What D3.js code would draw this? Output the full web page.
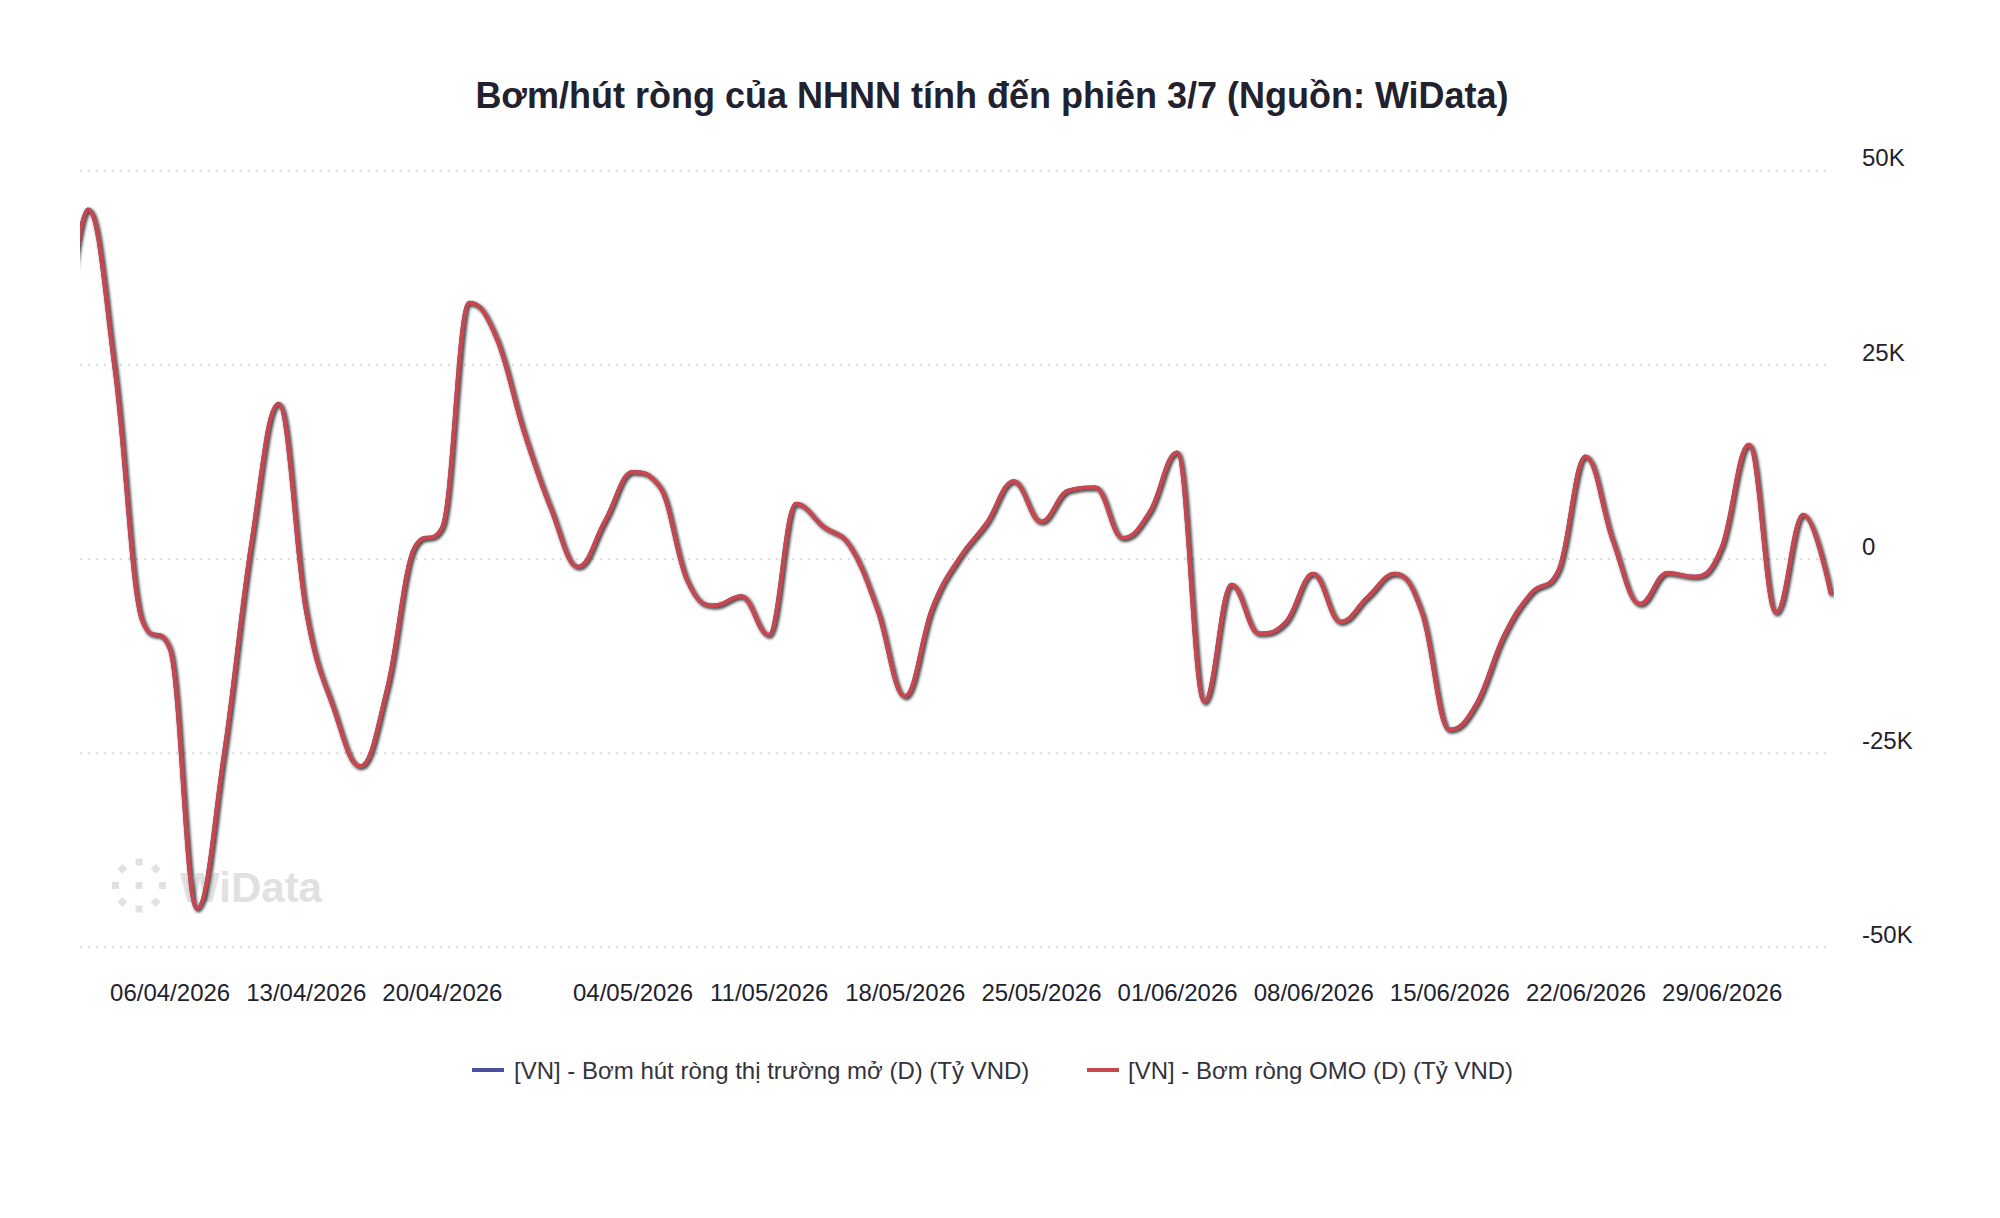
<!DOCTYPE html>
<html><head><meta charset="utf-8">
<script src="https://cdn.jsdelivr.net/npm/d3@7"></script>
<style>html,body{margin:0;padding:0;background:#fff;} svg{display:block;font-family:"Liberation Sans",Arial,Helvetica,sans-serif;}</style>
</head><body><svg id="chart" width="2000" height="1218"></svg>
<script>
// Trading days (31/03 lies just left of the visible plot and is clipped)
const dates = ["31/03","01/04","02/04","03/04","06/04","07/04","08/04","09/04","10/04","13/04","14/04","15/04","16/04","17/04","20/04","21/04","22/04","23/04","24/04","28/04","29/04","04/05","05/05","06/05","07/05","08/05","11/05","12/05","13/05","14/05","15/05","18/05","19/05","20/05","21/05","22/05","25/05","26/05","27/05","28/05","29/05","01/06","02/06","03/06","04/06","05/06","08/06","09/06","10/06","11/06","12/06","15/06","16/06","17/06","18/06","19/06","22/06","23/06","24/06","25/06","26/06","29/06","30/06","01/07","02/07","03/07"];

// [VN] - Bơm hút ròng thị trường mở (D) (Tỷ VND)
const netOpenMarket = [22000,45000,24000,-8000,-11500,-45000,-25000,2000,20000,-6500,-19000,-26700,-16500,1500,4000,33000,28500,16500,6500,-1000,5000,11200,9300,-2700,-6000,-4800,-9800,7100,4200,1600,-6600,-17700,-6400,100,4600,10000,4800,8800,9200,2700,6100,13700,-18400,-3300,-9600,-8100,-1900,-8100,-4900,-1900,-7000,-22000,-18600,-9900,-4400,-1500,13200,2400,-5800,-1800,-2300,1500,14700,-6900,5700,-4400];

// [VN] - Bơm ròng OMO (D) (Tỷ VND)
const netOMO = [22000,45000,24000,-8000,-11500,-45000,-25000,2000,20000,-6500,-19000,-26700,-16500,1500,4000,33000,28500,16500,6500,-1000,5000,11200,9300,-2700,-6000,-4800,-9800,7100,4200,1600,-6600,-17700,-6400,100,4600,10000,4800,8800,9200,2700,6100,13700,-18400,-3300,-9600,-8100,-1900,-8100,-4900,-1900,-7000,-22000,-18600,-9900,-4400,-1500,13200,2400,-5800,-1800,-2300,1500,14700,-6900,5700,-4400];

const xTickDates = ["06/04","13/04","20/04","04/05","11/05","18/05","25/05","01/06","08/06","15/06","22/06","29/06"];
const xTickLabels = ["06/04/2026","13/04/2026","20/04/2026","04/05/2026","11/05/2026","18/05/2026","25/05/2026","01/06/2026","08/06/2026","15/06/2026","22/06/2026","29/06/2026"];
const yTicks = [-50000,-25000,0,25000,50000];
const yTickLabels = ["-50K","-25K","0","25K","50K"];

const seriesNames = ["[VN] - Bơm hút ròng thị trường mở (D) (Tỷ VND)","[VN] - Bơm ròng OMO (D) (Tỷ VND)"];
const seriesColors = ["#4a4e9c","#c8474d"];
const titleText = "Bơm/hút ròng của NHNN tính đến phiên 3/7 (Nguồn: WiData)";

const svg = d3.select("#chart");
const plot = {left:80, right:1832, top:170.7, bottom:947.3};

const x = d3.scalePoint().domain(dates).range([60.7, 1830.6]);
const y = d3.scaleLinear().domain([-50000, 50000]).range([plot.bottom, plot.top]);

// Highcharts-like spline curve as a custom d3 curve
function curveHCSpline(context) {
  let pts;
  return {
    areaStart(){}, areaEnd(){},
    lineStart(){ pts = []; },
    point(px, py){ pts.push([+px, +py]); },
    lineEnd(){
      const n = pts.length; if (!n) return;
      const sm = 1.5, den = sm + 1, lc = [], rc = [];
      for (let i = 1; i < n - 1; i++) {
        const [px, py] = pts[i], [lx, ly] = pts[i-1], [nx, ny] = pts[i+1];
        let lcx = (sm*px + lx)/den, lcy = (sm*py + ly)/den;
        let rcx = (sm*px + nx)/den, rcy = (sm*py + ny)/den;
        let corr = 0;
        if (rcx !== lcx) corr = ((rcy - lcy)*(rcx - px))/(rcx - lcx) + py - rcy;
        lcy += corr; rcy += corr;
        if (lcy > ly && lcy > py) { lcy = Math.max(ly, py); rcy = 2*py - lcy; }
        else if (lcy < ly && lcy < py) { lcy = Math.min(ly, py); rcy = 2*py - lcy; }
        if (rcy > ny && rcy > py) { rcy = Math.max(ny, py); lcy = 2*py - rcy; }
        else if (rcy < ny && rcy < py) { rcy = Math.min(ny, py); lcy = 2*py - rcy; }
        lc[i] = [lcx, lcy]; rc[i] = [rcx, rcy];
      }
      context.moveTo(pts[0][0], pts[0][1]);
      for (let i = 1; i < n; i++) {
        const a = rc[i-1] || pts[i-1], b = lc[i] || pts[i];
        context.bezierCurveTo(a[0], a[1], b[0], b[1], pts[i][0], pts[i][1]);
      }
    }
  };
}

const defs = svg.append("defs");
defs.append("clipPath").attr("id","clip").append("rect")
  .attr("x", plot.left).attr("y", 0).attr("width", plot.right - plot.left + 2).attr("height", 1218);
const f = defs.append("filter").attr("id","shadow").attr("x","-5%").attr("y","-5%").attr("width","110%").attr("height","110%");
f.append("feDropShadow").attr("dx",1.5).attr("dy",1.5).attr("stdDeviation",1.6).attr("flood-color","#000").attr("flood-opacity",0.55);

// title
svg.append("text").attr("x", 992).attr("y", 108).attr("text-anchor","middle")
  .attr("font-size", 36).attr("font-weight","bold").attr("fill","#22222e").text(titleText);

// gridlines
svg.append("g").selectAll("line").data(yTicks).join("line")
  .attr("x1", plot.left).attr("x2", 1828)
  .attr("y1", d => y(d)).attr("y2", d => y(d))
  .attr("stroke", "#dcdcdc").attr("stroke-width", 2).attr("stroke-dasharray", "2,6");

// y axis (right)
const yAxis = d3.axisRight(y).tickValues(yTicks).tickFormat(d => yTickLabels[yTicks.indexOf(d)]).tickSize(0).tickPadding(0);
const gy = svg.append("g").attr("transform", "translate(1862,0)").call(yAxis);
gy.select(".domain").remove();
gy.selectAll("text").attr("font-size", 24).attr("fill", "#22222e").attr("dy", "-0.2em")
  .style("font-family", '"Liberation Sans",Arial,sans-serif');

// x axis
const xAxis = d3.axisBottom(x).tickValues(xTickDates).tickFormat(d => xTickLabels[xTickDates.indexOf(d)]).tickSize(0).tickPadding(0);
const gx = svg.append("g").attr("transform", "translate(0,984)").call(xAxis);
gx.select(".domain").remove();
gx.selectAll("text").attr("font-size", 24).attr("fill", "#22222e")
  .style("font-family", '"Liberation Sans",Arial,sans-serif');

// watermark
const wm = svg.append("g").attr("fill", "#e1e1e1");
const cx = 139, cy = 885.5, r = 23.5;
for (let k = 0; k < 8; k++) {
  const ang = k * Math.PI / 4;
  const px = cx + r * Math.sin(ang), py = cy - r * Math.cos(ang);
  wm.append("rect").attr("x", px - 3.5).attr("y", py - 3.5).attr("width", 7).attr("height", 7)
    .attr("transform", k % 2 ? `rotate(45 ${px} ${py})` : null);
}
wm.append("rect").attr("x", cx - 3.5).attr("y", cy - 3.5).attr("width", 7).attr("height", 7);
wm.append("text").attr("x", 180).attr("y", 902).attr("font-size", 42).attr("font-weight", "bold").text("WiData");

// lines
const line = d3.line().x((d,i) => x(dates[i])).y(d => y(d)).curve(curveHCSpline);
const gl = svg.append("g").attr("clip-path", "url(#clip)");
[netOpenMarket, netOMO].forEach((vals, k) => {
  gl.append("path").datum(vals).attr("d", line)
    .attr("fill", "none").attr("stroke", seriesColors[k]).attr("stroke-width", 4)
    .attr("stroke-linejoin", "round").attr("stroke-linecap", "round")
    .attr("filter", "url(#shadow)");
});

// legend
const legendItems = [{sx:472, tx:514}, {sx:1087, tx:1128}];
const lg = svg.append("g");
legendItems.forEach((it, k) => {
  lg.append("line").attr("x1", it.sx).attr("x2", it.sx + 32).attr("y1", 1070).attr("y2", 1070)
    .attr("stroke", seriesColors[k]).attr("stroke-width", 4);
  lg.append("text").attr("x", it.tx).attr("y", 1078.5).attr("font-size", 24).attr("fill", "#333340").text(seriesNames[k]);
});
</script></body></html>
